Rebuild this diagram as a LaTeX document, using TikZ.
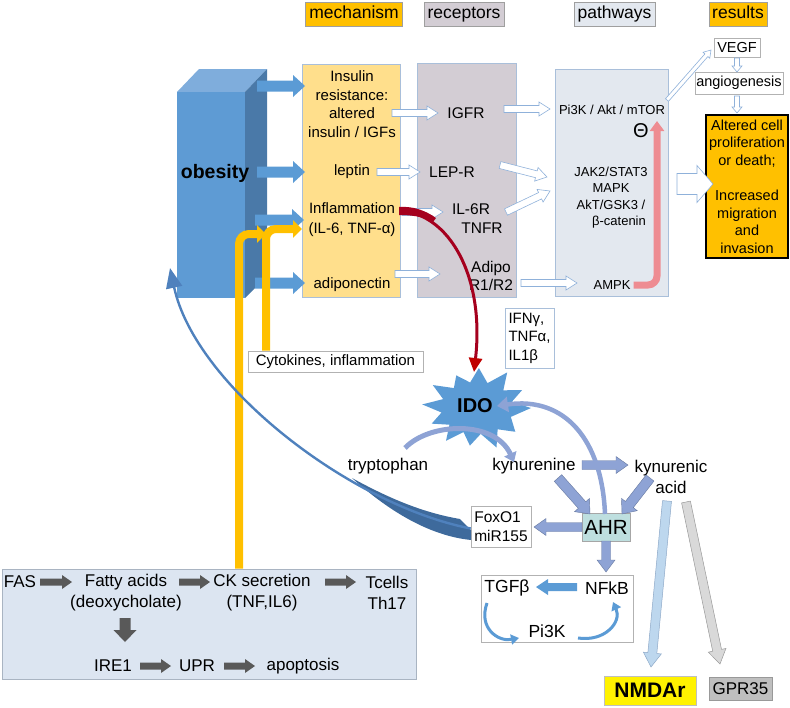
\documentclass[tikz,border=0pt]{standalone}
\usepackage{fontspec}
\setmainfont{Liberation Sans}
\usetikzlibrary{calc,arrows.meta}
\definecolor{obfront}{HTML}{5E9BD4}
\definecolor{obtop}{HTML}{7FADDC}
\definecolor{obside}{HTML}{4A79A8}
\definecolor{obblue}{HTML}{5B9BD5}
\definecolor{orng}{HTML}{FFC000}
\definecolor{recg}{HTML}{D3CDD4}
\definecolor{pathg}{HTML}{E3E8EF}
\definecolor{mechf}{HTML}{FFDF8C}
\definecolor{bordb}{HTML}{A9BFDA}
\definecolor{arrb}{HTML}{8FB1DA}
\definecolor{darkg}{HTML}{595959}
\definecolor{lav}{HTML}{8EA3D5}
\definecolor{lavd}{HTML}{66789F}
\definecolor{redc}{HTML}{A5001E}
\definecolor{redh}{HTML}{C00000}
\definecolor{pinkc}{HTML}{EE8C92}
\definecolor{botf}{HTML}{DCE5F1}
\definecolor{botb}{HTML}{A9B4C2}
\definecolor{ahrf}{HTML}{BEDFDF}
\definecolor{nmlb}{HTML}{BDD7EE}
\definecolor{nmlbd}{HTML}{8EA9C8}
\definecolor{gpra}{HTML}{D9D9D9}
\definecolor{gprb}{HTML}{BFBFBF}
\definecolor{bigb}{HTML}{4F81BD}
\definecolor{bigbd}{HTML}{3E6A9C}
\definecolor{idob}{HTML}{5B9BD5}
\newcommand\barr[6][]{%
  \coordinate (bH) at ($(#3)!#6!(#2)$);
  \path[#1] ($(#2)!#4!90:(#3)$) -- ($(bH)!#4!-90:(#2)$) -- ($(bH)!#5!-90:(#2)$) -- (#3)
    -- ($(bH)!#5!90:(#2)$) -- ($(bH)!#4!90:(#2)$) -- ($(#2)!#4!-90:(#3)$) -- cycle;}
\begin{document}
\begin{tikzpicture}[x=1pt,y=-1pt,
  lbl/.style={inner sep=0pt, align=center},
  fs/.style 2 args={font=\fontsize{#1}{#2}\selectfont},
  hdr/.style={draw=gray!75, line width=0.6pt, inner sep=0pt, minimum height=24pt, fs={17.5}{20}, text height=12.5pt, text depth=3.5pt},
  wbox/.style={draw=gray!60, fill=white, line width=0.6pt, inner sep=0pt},
  colbox/.style={draw=bordb, line width=0.6pt, inner sep=0pt},
  openarr/.style={fill=white, draw=arrb, line width=0.6pt},
  bluearr/.style={fill=obblue},
  darkarr/.style={fill=darkg},
  lavarr/.style={fill=lav, draw=lavd, line width=0.4pt},
  yel/.style={orng, line width=8pt, rounded corners=10pt, -{Triangle[length=9pt,width=17pt]}},
]
\useasboundingbox (0,0) rectangle (790,707);

% headers
\node[hdr, fill=orng, minimum width=97pt] (hmech) at (354,14) {mechanism};
\node[hdr, fill=recg, minimum width=80pt] (hrec) at (464,14) {receptors};
\node[hdr, fill=pathg, minimum width=81pt] (hpath) at (614.5,14) {pathways};
\node[hdr, fill=orng, minimum width=58pt] (hres) at (738,14) {results};

% obesity block
\fill[obtop] (177,92) -- (199,69) -- (267,69) -- (245,92) -- cycle;
\fill[obside] (245,92) -- (267,69) -- (267,276) -- (245,298) -- cycle;
\fill[obfront] (177,92) rectangle (245,298);
\node[lbl, fs={19.5}{22}] (obesity) at (215,173) {\bfseries obesity};

% column boxes
\node[colbox, fill=mechf, minimum width=98pt, minimum height=233pt] (mech) at (351,180.5) {};
\node[colbox, fill=recg, minimum width=99pt, minimum height=234pt] (rec) at (466.5,180) {};
\node[colbox, fill=pathg, minimum width=113pt, minimum height=227pt] (path) at (611.5,182.5) {};

% obesity -> mechanism arrows
\coordinate (o1s) at (257,86);  \coordinate (o1e) at (305,86);
\coordinate (o2s) at (257,172); \coordinate (o2e) at (305,172);
\coordinate (o3s) at (255,220); \coordinate (o3e) at (304,220);
\coordinate (o4s) at (255,283); \coordinate (o4e) at (305,283);
\barr[bluearr]{o1s}{o1e}{5.5pt}{11pt}{12pt}
\barr[bluearr]{o2s}{o2e}{5.5pt}{11pt}{12pt}
\barr[bluearr]{o3s}{o3e}{5.5pt}{11pt}{12pt}
\barr[bluearr]{o4s}{o4e}{5.5pt}{11pt}{12pt}

% mechanism texts
\node[lbl, fs={15}{18.7}] (mins) at (352,104) {Insulin\\resistance:\\altered\\insulin / IGFs};
\node[lbl, fs={15}{18}] (mlep) at (352,172) {leptin};
\node[lbl, fs={15}{20}] (minf) at (352,219.5) {Inflammation\\(IL-6, TNF-α)};
\node[lbl, fs={15}{18}] (madi) at (352,285) {adiponectin};

% receptor texts
\node[lbl, fs={15.5}{18}] (igfr) at (466,113) {IGFR};
\node[lbl, fs={15.5}{18}] (lepr) at (452,172) {LEP-R};
\node[lbl, fs={15.5}{18}] (il6r) at (471,209) {IL-6R};
\node[lbl, fs={15.5}{18}] (tnfr) at (482,228) {TNFR};
\node[lbl, fs={15.5}{18}] (adipo) at (491,276) {Adipo\\R1/R2};

% pathway texts
\node[lbl, fs={13}{16}] (pi3k) at (612,110) {Pi3K / Akt / mTOR};
\node[lbl, fs={20}{22}] (theta) at (641,131) {Θ};
\node[lbl, fs={13}{16.3}] (jak) at (611,197.5) {JAK2/STAT3\\MAPK\\AkT/GSK3 /\\\hspace*{16pt}β-catenin};
\node[lbl, fs={13}{16}] (ampk) at (612,285) {AMPK};

% mechanism -> receptors
\coordinate (m1s) at (392,113); \coordinate (m1e) at (438,113);
\coordinate (m2s) at (377,172); \coordinate (m2e) at (420,172);
\coordinate (m3s) at (402,212); \coordinate (m3e) at (443,212);
\coordinate (m4s) at (395,274); \coordinate (m4e) at (440,274);
\barr[openarr]{m1s}{m1e}{3.5pt}{7pt}{11pt}
\barr[openarr]{m2s}{m2e}{3.5pt}{7pt}{11pt}
\barr[openarr]{m3s}{m3e}{3.5pt}{7pt}{11pt}
\barr[openarr]{m4s}{m4e}{3.5pt}{7pt}{11pt}
% receptors -> pathways
\coordinate (r1s) at (504,109); \coordinate (r1e) at (550,109);
\coordinate (r2s) at (500,165); \coordinate (r2e) at (547,177);
\coordinate (r3s) at (506,212); \coordinate (r3e) at (550,191);
\coordinate (r4s) at (521,283); \coordinate (r4e) at (577,283);
\barr[openarr]{r1s}{r1e}{3.5pt}{7pt}{11pt}
\barr[openarr]{r2s}{r2e}{3.5pt}{7pt}{11pt}
\barr[openarr]{r3s}{r3e}{3.5pt}{7pt}{11pt}
\barr[openarr]{r4s}{r4e}{3.5pt}{7pt}{11pt}

% AMPK -| mTOR
\draw[pinkc, line width=7pt, rounded corners=9pt, -{Triangle[length=10pt,width=14pt]}] (ampk.east) ++(3,0) coordinate (pk1) -- (657,285) -- (657,121) coordinate (pk3);

% results
\node[wbox, minimum width=46pt, minimum height=19pt, fs={14.5}{17}] (vegf) at (737,47.5) {VEGF};
\node[wbox, minimum width=88pt, minimum height=22pt, fs={14.5}{17}] (angio) at (739,83) {angiogenesis};
\node[draw=black, line width=1.8pt, fill=orng, minimum width=82pt, minimum height=143pt, inner sep=0pt, align=center, fs={14.5}{17.6}] (res) at (747,186.5) {Altered cell\\proliferation\\or death;\\\mbox{}\\Increased\\migration\\and\\invasion};
\coordinate (v1s) at (667,100); \coordinate (v1e) at (711,50);
\barr[openarr]{v1s}{v1e}{2pt}{4.5pt}{7pt}
\coordinate (v2s) at (737,58); \coordinate (v2e) at (737,72);
\barr[openarr]{v2s}{v2e}{2.5pt}{5pt}{6pt}
\coordinate (v3s) at (737,96); \coordinate (v3e) at (737,113);
\barr[openarr]{v3s}{v3e}{2.5pt}{5pt}{6pt}
\coordinate (bgs) at (677,184); \coordinate (bge) at (713,184);
\barr[openarr]{bgs}{bge}{10.5pt}{18.5pt}{16pt}

% bottom box
\node[draw=botb, fill=botf, line width=0.8pt, minimum width=414pt, minimum height=110pt, inner sep=0pt] (bot) at (209,624) {};
\node[lbl, fs={17}{21}] (fas) at (20,582) {FAS};
\node[lbl, fs={17}{21}] (fatty) at (126,592.5) {Fatty acids\\(deoxycholate)};
\node[lbl, fs={17}{21}] (ck) at (262,592.5) {CK secretion\\(TNF,IL6)};
\node[lbl, fs={17}{21}] (tcell) at (387,592.5) {Tcells\\Th17};
\node[lbl, fs={17}{21}] (ire) at (113,666) {IRE1};
\node[lbl, fs={17}{21}] (upr) at (197,666) {UPR};
\node[lbl, fs={17}{21}] (apop) at (303,666) {apoptosis};
\coordinate (b1s) at (40,582);  \coordinate (b1e) at (72,582);
\coordinate (b2s) at (179,582); \coordinate (b2e) at (210,582);
\coordinate (b3s) at (325,582); \coordinate (b3e) at (356,582);
\coordinate (b4s) at (140,666); \coordinate (b4e) at (171,666);
\coordinate (b5s) at (224,666); \coordinate (b5e) at (255,666);
\coordinate (b6s) at (125,618); \coordinate (b6e) at (125,642);
\barr[darkarr]{b1s}{b1e}{3.5pt}{7pt}{10pt}
\barr[darkarr]{b2s}{b2e}{3.5pt}{7pt}{10pt}
\barr[darkarr]{b3s}{b3e}{3.5pt}{7pt}{10pt}
\barr[darkarr]{b4s}{b4e}{3.5pt}{7pt}{10pt}
\barr[darkarr]{b5s}{b5e}{3.5pt}{7pt}{10pt}
\barr[darkarr]{b6s}{b6e}{5.5pt}{11.5pt}{12pt}

% yellow feedback lines
\draw[yel] (bot.north -| 239,0) -- (239,234) -- (266,234);
\node[wbox, minimum width=175pt, minimum height=21pt, fs={15}{18}] (cyto) at (335.5,361.5) {Cytokines, inflammation};
\draw[yel] (cyto.north -| 266,0) -- (266,229) -- (302,229);

% IFN box
\node[wbox, draw=bordb, minimum width=49pt, minimum height=60pt, align=left, fs={15}{18.5}] (ifn) at (529.5,338) {IFNγ,\\TNFα,\\IL1β};

% IDO star
\begin{scope}[shift={(477,408)}]
\fill[idob] (0:54pt and 40pt) -- (14:36pt and 26pt) -- (28:51pt and 38pt) -- (43:36pt and 26pt)
  -- (58:57pt and 42pt) -- (73:36pt and 26pt) -- (88:54pt and 40pt) -- (101:36pt and 26pt)
  -- (115:49pt and 36pt) -- (130:36pt and 26pt) -- (145:54pt and 40pt) -- (160:36pt and 26pt)
  -- (175:55pt and 41pt) -- (190:36pt and 26pt) -- (205:50pt and 37pt) -- (220:36pt and 26pt)
  -- (235:54pt and 40pt) -- (248:36pt and 26pt) -- (262:51pt and 38pt) -- (276:36pt and 26pt)
  -- (290:57pt and 42pt) -- (305:36pt and 26pt) -- (320:50pt and 37pt) -- (340:36pt and 26pt) -- cycle;
\end{scope}
\node[lbl, fs={20}{24}] (ido) at (475,406) {\bfseries IDO};

% red arrow inflammation -> IDO
\coordinate (rs) at (400,211);
\coordinate (re) at (474,372);
\fill[redc] (399,207) .. controls (412,206) and (425,210) .. (436,218) -- (433,222) .. controls (422,216) and (410,215) .. (399,215) -- cycle;
\draw[redc, line width=3pt, -{Triangle[length=14pt,width=13pt,fill=redh,color=redh]}] (rs) .. controls (448,213) and (485,275) .. (re);

% kynurenine pathway
\node[lbl, fs={17}{21}] (tryp) at (388,466) {tryptophan};
\node[lbl, fs={17}{21}] (kyn) at (534,466) {kynurenine};
\node[lbl, fs={17}{21}] (kyna) at (671,476.5) {kynurenic\\acid};
\node[draw=gray!70, fill=ahrf, line width=0.6pt, minimum width=48pt, minimum height=28pt, inner sep=0pt, fs={20.5}{22}] (ahr) at (606,527) {AHR};
\node[wbox, minimum width=60pt, minimum height=41pt, align=left, fs={15.5}{19}] (fox) at (501,526.5) {FoxO1\\miR155};
\node[wbox, minimum width=152pt, minimum height=67pt] (tgfbox) at (557,608.5) {};
\node[lbl, fs={17.5}{21}] (tgf) at (507,588) {TGFβ};
\node[lbl, fs={17.5}{21}] (nfkb) at (607,588) {NFkB};
\node[lbl, fs={17.5}{21}] (pi3kb) at (547,631) {Pi3K};

\draw[lav, line width=5pt, -{Triangle[length=9pt,width=13pt]}] (405,448) coordinate (ts) .. controls (430,422) and (495,420) .. (514,462) coordinate (te);

\coordinate (k1s) at (582,465); \coordinate (k1e) at (628,465);
\coordinate (k2s) at (558,478); \coordinate (k2e) at (590,514);
\coordinate (k3s) at (650,478); \coordinate (k3e) at (622,514);
\coordinate (k4s) at (582,527); \coordinate (k4e) at (534,527);
\coordinate (k5s) at (606,541); \coordinate (k5e) at (606,572);
\barr[lavarr]{k1s}{k1e}{4.5pt}{8.5pt}{12pt}
\barr[lavarr]{k2s}{k2e}{5pt}{10pt}{12pt}
\barr[lavarr]{k3s}{k3e}{5pt}{10pt}{12pt}
\barr[lavarr]{k4s}{k4e}{4.5pt}{8.5pt}{12pt}
\barr[lavarr]{k5s}{k5e}{4.5pt}{9pt}{12pt}

% AHR -> IDO
\draw[lav, line width=4.5pt, -{Triangle[length=11pt,width=15pt]}] (605,514) coordinate (as) .. controls (602,440) and (565,396) .. (497,406) coordinate (ae);

% NFkB -> TGFb and loops
\coordinate (n1s) at (577,587); \coordinate (n1e) at (536,587);
\barr[bluearr]{n1s}{n1e}{4pt}{8pt}{12pt}
\draw[obblue, line width=3pt, -{Triangle[length=8pt,width=10pt]}] (487,603) .. controls (478,628) and (498,642) .. (519,638);
\draw[obblue, line width=3pt, -{Triangle[length=8pt,width=10pt]}] (578,638) .. controls (605,642) and (622,622) .. (613,602);

% FoxO1 -> obesity
\fill[bigbd] (471,530) -- (460,519) .. controls (425,513) and (392,500) .. (352,478) .. controls (392,514) and (432,536) .. (471,540) -- cycle;
\draw[bigb, line width=2.4pt, -{Triangle[length=20pt,width=16pt]}] (fox.west) ++(0,2) coordinate (fs1) .. controls (350,505) and (195,385) .. (170,268) coordinate (fe1);

% kynurenic acid -> receptors
\coordinate (nm1s) at (667,501); \coordinate (nm1e) at (651,667);
\coordinate (gp1s) at (686,502); \coordinate (gp1e) at (720,664);
\barr[fill=nmlb, draw=nmlbd, line width=0.5pt]{nm1s}{nm1e}{4.5pt}{9pt}{14pt}
\barr[fill=gpra, draw=gray!80, line width=0.5pt]{gp1s}{gp1e}{4.5pt}{9pt}{14pt}
\node[draw=gray!50, fill=yellow, line width=0.6pt, minimum width=92pt, minimum height=29pt, inner sep=0pt, fs={21}{24}] (nmda) at (650,690.5) {\bfseries NMDAr};
\node[draw=gray!80, fill=gprb, line width=0.6pt, minimum width=63pt, minimum height=23pt, inner sep=0pt, fs={17}{20}] (gpr) at (740.5,688.5) {GPR35};
\end{tikzpicture}
\end{document}
